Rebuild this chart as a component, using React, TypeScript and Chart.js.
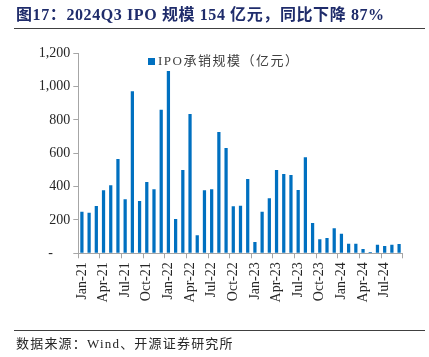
import React, { useEffect, useRef } from "react";
import { Chart, registerables } from "chart.js";

Chart.register(...registerables);

const months = [
  "Jan-21","Feb-21","Mar-21","Apr-21","May-21","Jun-21","Jul-21","Aug-21","Sep-21","Oct-21","Nov-21","Dec-21",
  "Jan-22","Feb-22","Mar-22","Apr-22","May-22","Jun-22","Jul-22","Aug-22","Sep-22","Oct-22","Nov-22","Dec-22",
  "Jan-23","Feb-23","Mar-23","Apr-23","May-23","Jun-23","Jul-23","Aug-23","Sep-23","Oct-23","Nov-23","Dec-23",
  "Jan-24","Feb-24","Mar-24","Apr-24","May-24","Jun-24","Jul-24","Aug-24","Sep-24",
];

const ipoValues = [
  250, 244, 284, 378, 408, 566, 324, 972, 314, 428, 384, 862,
  1094, 206, 500, 836, 108, 378, 384, 728, 632, 282, 286, 446,
  68, 250, 330, 500, 476, 470, 380, 576, 182, 84, 92, 150,
  118, 58, 58, 26, 8, 52, 44, 52, 56,
];

const yTicks = [0, 200, 400, 600, 800, 1000, 1200];

const seriesName = "IPO承销规模（亿元）";
const titleText = "图17：2024Q3 IPO 规模 154 亿元，同比下降 87%";
const sourceText = "数据来源：Wind、开源证券研究所";

const AXIS_GRAY = "#A6A6A6";
const TEXT = "#262626";
const BAR = "#0070C0";

export default function App() {
  const ref = useRef<HTMLCanvasElement | null>(null);

  useEffect(() => {
    if (!ref.current) return;
    const chart = new Chart(ref.current, {
      type: "bar",
      data: {
        labels: months,
        datasets: [
          {
            label: seriesName,
            data: ipoValues,
            backgroundColor: BAR,
            categoryPercentage: 1,
            barPercentage: 0.45,
          },
        ],
      },
      options: {
        responsive: false,
        animation: false,
        devicePixelRatio: 1,
        layout: { padding: { left: 0, right: 26.3, top: 53.3, bottom: 43.7 } },
        plugins: { legend: { display: false }, tooltip: { enabled: false } },
        scales: {
          x: {
            offset: true,
            grid: {
              offset: true,
              drawOnChartArea: false,
              drawTicks: true,
              tickLength: 5,
              color: (ctx: any) =>
                ctx.index === undefined || ctx.index % 3 === 0 ? AXIS_GRAY : "rgba(0,0,0,0)",
            },
            border: { color: AXIS_GRAY },
            ticks: {
              autoSkip: false,
              maxRotation: 90,
              minRotation: 90,
              padding: 4,
              color: TEXT,
              font: { family: "'Liberation Serif', 'Times New Roman', serif", size: 14 },
              callback: (_v: any, i: number) => (i % 3 === 0 ? months[i] : ""),
            },
            afterFit: (scale: any) => {
              scale.height = 60;
            },
          },
          y: {
            min: 0,
            max: 1200,
            afterBuildTicks: (scale: any) => {
              scale.ticks = yTicks.map((v) => ({ value: v }));
            },
            grid: {
              drawOnChartArea: false,
              drawTicks: true,
              tickLength: 5,
              color: AXIS_GRAY,
            },
            border: { color: AXIS_GRAY },
            ticks: {
              padding: 3,
              color: TEXT,
              font: { family: "'Liberation Serif', 'Times New Roman', serif", size: 14 },
              callback: (v: any) => (Number(v) === 0 ? "-     " : Number(v).toLocaleString("en-US")),
            },
            afterFit: (scale: any) => {
              scale.width = 78.3;
            },
          },
        },
      },
    });
    return () => chart.destroy();
  }, []);

  return (
    <div
      style={{
        position: "fixed",
        left: 0,
        top: 0,
        width: 429,
        height: 357,
        background: "#fff",
        overflow: "hidden",
      }}
    >
      <canvas
        ref={ref}
        width={429}
        height={357}
        style={{ position: "absolute", left: 0, top: 0, width: 429, height: 357 }}
      />
      <div
        style={{
          position: "absolute",
          left: 16,
          top: 5,
          fontFamily: "'Liberation Serif', 'Noto Sans CJK SC', serif",
          fontWeight: "bold",
          fontSize: 16,
          letterSpacing: 0.6,
          color: "#1F2C6B",
          whiteSpace: "nowrap",
          lineHeight: "20px",
        }}
      >
        {titleText}
      </div>
      <div
        style={{
          position: "absolute",
          left: 14,
          top: 27.5,
          width: 411,
          height: 1.5,
          background: "#404040",
        }}
      />
      <div
        style={{
          position: "absolute",
          left: 148,
          top: 52,
          display: "flex",
          alignItems: "center",
          whiteSpace: "nowrap",
          fontFamily: "'Liberation Serif', 'Noto Sans CJK SC', serif",
          fontSize: 13,
          color: "#404040",
          lineHeight: "18px",
        }}
      >
        <span style={{ display: "inline-block", width: 7, height: 7, background: BAR, marginRight: 3 }} />
        <span style={{ letterSpacing: 1.5 }}>{seriesName}</span>
      </div>
      <div
        style={{
          position: "absolute",
          left: 14,
          top: 329.5,
          width: 411,
          height: 1,
          background: "#404040",
        }}
      />
      <div
        style={{
          position: "absolute",
          left: 16,
          top: 335,
          fontFamily: "'Liberation Serif', 'Noto Sans CJK SC', serif",
          fontSize: 13,
          letterSpacing: 1.2,
          color: "#262626",
          whiteSpace: "nowrap",
          lineHeight: "18px",
        }}
      >
        {sourceText}
      </div>
    </div>
  );
}
